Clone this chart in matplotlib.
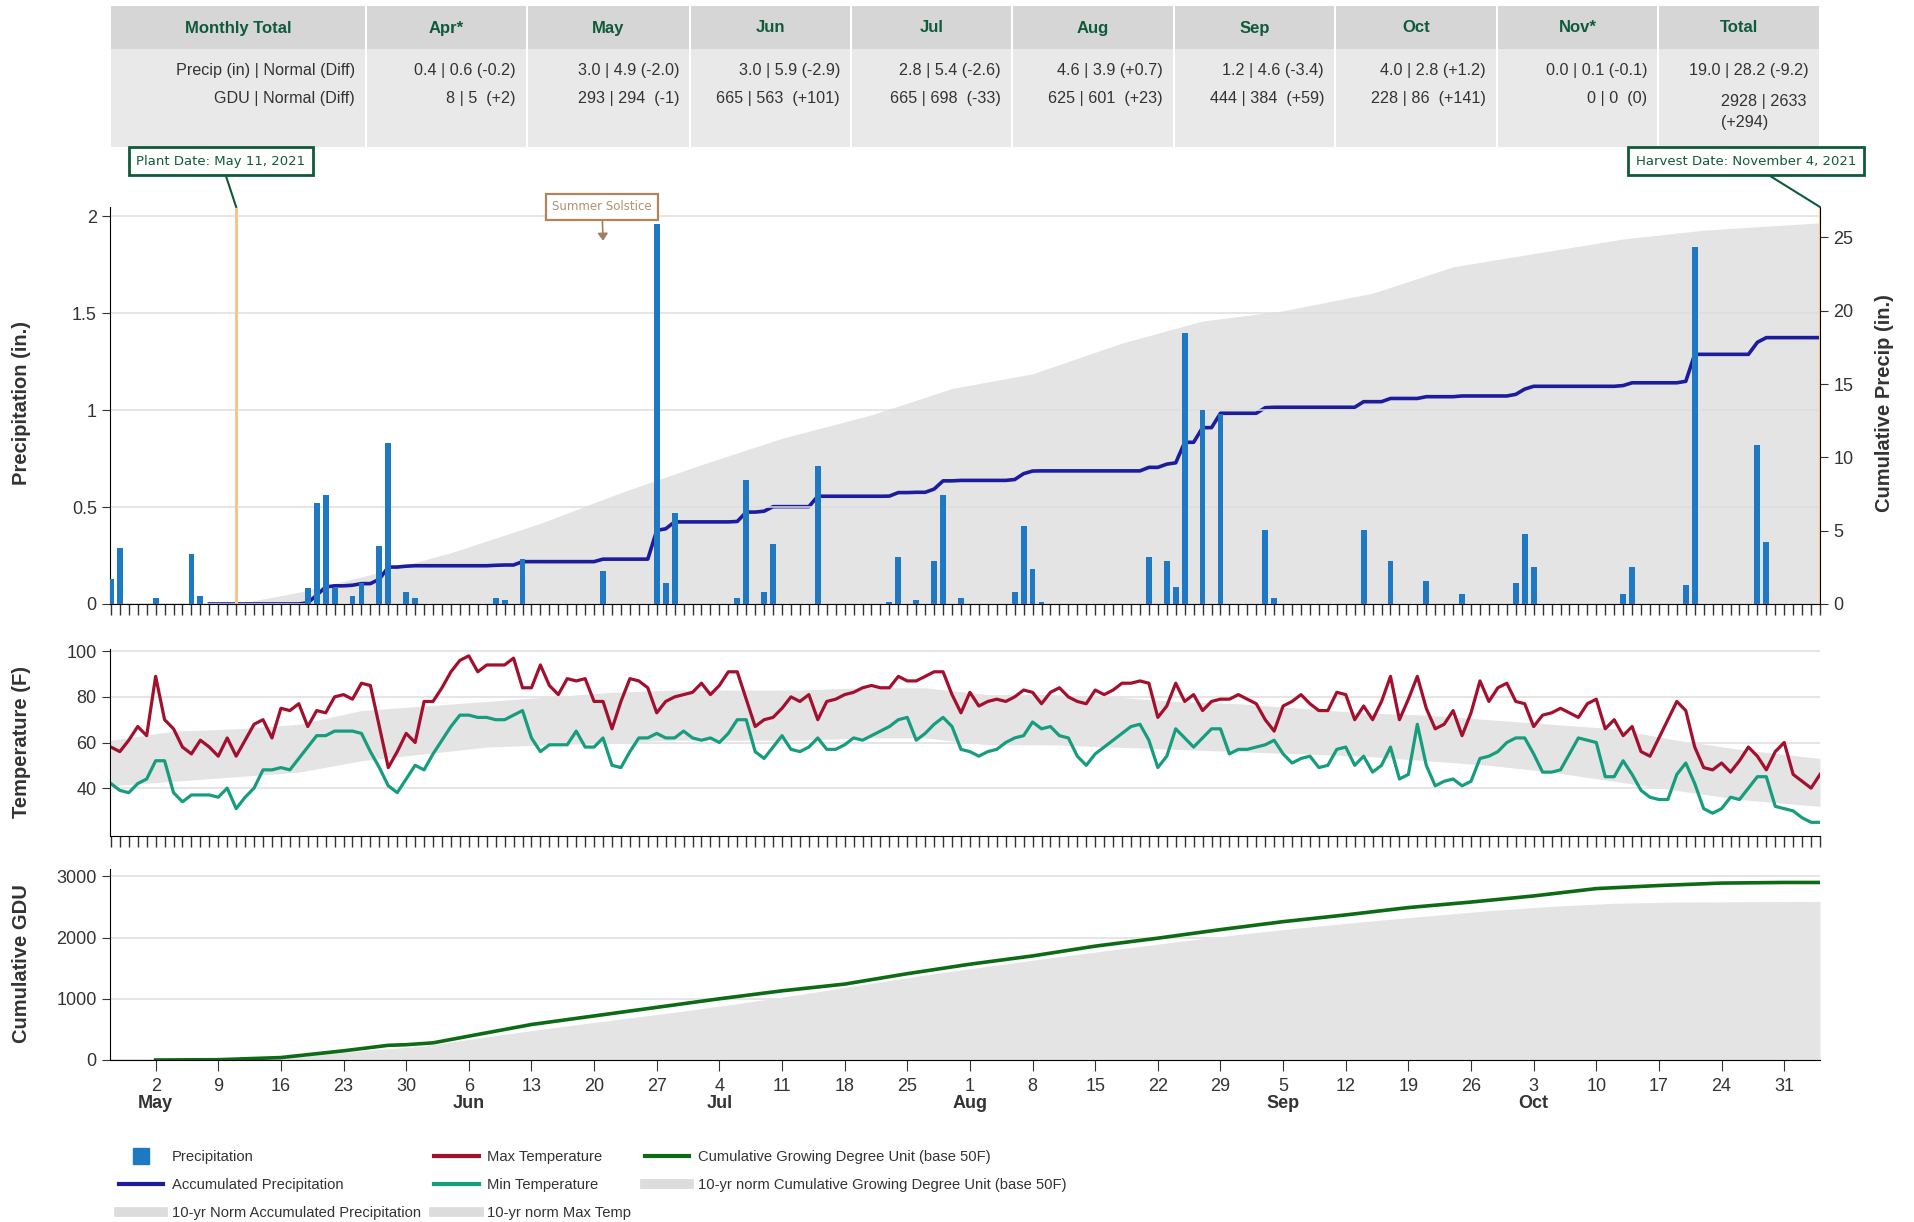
import matplotlib.pyplot as plt
import matplotlib.dates as mdates
import matplotlib.transforms as mtransforms
from matplotlib.lines import Line2D
from matplotlib.patches import Rectangle
import numpy as np
import pandas as pd

plt.rcParams['font.family'] = ['Liberation Sans', 'DejaVu Sans']
narrow = ['Liberation Sans Narrow', 'Liberation Sans', 'DejaVu Sans']

# ---------------- data ----------------
start, end = '2021-04-27', '2021-11-04'
plant_date = '2021-05-11'
harvest_date = '2021-11-04'
solstice = '2021-06-21'
accum_start = '2021-05-08'

table_cols = ['Monthly Total', 'Apr*', 'May', 'Jun', 'Jul', 'Aug', 'Sep', 'Oct', 'Nov*', 'Total']
precip_row = ['Precip (in) | Normal (Diff)', '0.4 | 0.6 (-0.2)', '3.0 | 4.9 (-2.0)', '3.0 | 5.9 (-2.9)',
              '2.8 | 5.4 (-2.6)', '4.6 | 3.9 (+0.7)', '1.2 | 4.6 (-3.4)', '4.0 | 2.8 (+1.2)',
              '0.0 | 0.1 (-0.1)', '19.0 | 28.2 (-9.2)']
gdu_row = ['GDU | Normal (Diff)', '8 | 5  (+2)', '293 | 294  (-1)', '665 | 563  (+101)',
           '665 | 698  (-33)', '625 | 601  (+23)', '444 | 384  (+59)', '228 | 86  (+141)',
           '0 | 0  (0)', '2928 | 2633\n(+294)']

precip_dates = ['2021-04-27', '2021-04-28', '2021-05-02', '2021-05-06', '2021-05-07', '2021-05-19',
                '2021-05-20', '2021-05-21', '2021-05-22', '2021-05-24', '2021-05-25', '2021-05-27',
                '2021-05-28', '2021-05-30', '2021-05-31', '2021-06-09', '2021-06-10', '2021-06-12',
                '2021-06-21', '2021-06-27', '2021-06-28', '2021-06-29', '2021-07-06', '2021-07-07',
                '2021-07-09', '2021-07-10', '2021-07-15', '2021-07-23', '2021-07-24', '2021-07-26',
                '2021-07-28', '2021-07-29', '2021-07-31', '2021-08-06', '2021-08-07', '2021-08-08',
                '2021-08-09', '2021-08-21', '2021-08-23', '2021-08-24', '2021-08-25', '2021-08-27',
                '2021-08-29', '2021-09-03', '2021-09-04', '2021-09-14', '2021-09-17', '2021-09-21',
                '2021-09-25', '2021-10-01', '2021-10-02', '2021-10-03', '2021-10-13', '2021-10-14',
                '2021-10-20', '2021-10-21', '2021-10-28', '2021-10-29']
precip_vals = [0.13, 0.29, 0.03, 0.26, 0.04, 0.08,
               0.52, 0.56, 0.08, 0.04, 0.11, 0.30,
               0.83, 0.06, 0.03, 0.03, 0.02, 0.23,
               0.17, 1.96, 0.11, 0.47, 0.03, 0.64,
               0.06, 0.31, 0.71, 0.01, 0.24, 0.02,
               0.22, 0.56, 0.03, 0.06, 0.40, 0.18,
               0.01, 0.24, 0.22, 0.09, 1.40, 1.00,
               0.98, 0.38, 0.03, 0.38, 0.22, 0.12,
               0.05, 0.11, 0.36, 0.19, 0.05, 0.19,
               0.10, 1.84, 0.82, 0.32]

norm_precip_dates = ['2021-05-11', '2021-05-18', '2021-05-26', '2021-06-04', '2021-06-14', '2021-06-23',
                     '2021-07-02', '2021-07-11', '2021-07-21', '2021-07-30', '2021-08-08', '2021-08-18',
                     '2021-08-27', '2021-09-05', '2021-09-15', '2021-09-24', '2021-10-04', '2021-10-13',
                     '2021-10-22', '2021-11-04']
norm_precip_vals = [0.0, 0.8, 2.0, 3.5, 5.5, 7.6, 9.5, 11.3, 12.9, 14.7, 15.7, 17.8,
                    19.3, 20.0, 21.2, 23.0, 24.0, 24.9, 25.5, 26.0]

# daily max / min temperature, Apr 27 .. Nov 4
tmax = [58, 56, 61, 67, 63, 89, 70, 66, 58, 55,
        61, 58, 54, 62, 54, 61, 68, 70, 62, 75,
        74, 77, 67, 74, 73, 80, 81, 79, 86, 85,
        67, 49, 56, 64, 60, 78, 78, 84, 91, 96,
        98, 91, 94, 94, 94, 97, 84, 84, 94, 85,
        81, 88, 87, 88, 78, 78, 66, 78, 88, 87,
        84, 73, 78, 80, 81, 82, 86, 81, 85, 91,
        91, 79, 67, 70, 71, 75, 80, 78, 81, 70,
        78, 79, 81, 82, 84, 85, 84, 84, 89, 87,
        87, 89, 91, 91, 81, 73, 82, 76, 78, 79,
        78, 80, 83, 82, 77, 82, 84, 80, 78, 77,
        83, 81, 83, 86, 86, 87, 86, 71, 76, 86,
        78, 81, 74, 78, 79, 79, 81, 79, 77, 70,
        65, 76, 78, 81, 77, 74, 74, 82, 81, 70,
        76, 70, 78, 89, 70, 79, 89, 75, 66, 68,
        74, 63, 73, 87, 78, 84, 86, 78, 77, 67,
        72, 73, 75, 73, 71, 77, 79, 66, 70, 63,
        67, 56, 54, 62, 70, 78, 74, 58, 49, 48,
        51, 47, 52, 58, 54, 48, 56, 60, 46, 43,
        40, 46]
tmin = [42, 39, 38, 42, 44, 52, 52, 38, 34, 37,
        37, 37, 36, 40, 31, 36, 40, 48, 48, 49,
        48, 53, 58, 63, 63, 65, 65, 65, 64, 56,
        49, 41, 38, 44, 50, 48, 55, 61, 67, 72,
        72, 71, 71, 70, 70, 72, 74, 62, 56, 59,
        59, 59, 65, 58, 58, 62, 50, 49, 56, 62,
        62, 64, 62, 62, 65, 62, 61, 62, 60, 64,
        70, 70, 56, 53, 58, 63, 57, 56, 58, 62,
        57, 57, 59, 62, 61, 63, 65, 67, 70, 71,
        61, 64, 68, 71, 67, 57, 56, 54, 56, 57,
        60, 62, 63, 69, 66, 67, 63, 62, 54, 50,
        55, 58, 61, 64, 67, 68, 61, 49, 54, 66,
        62, 58, 62, 66, 66, 55, 57, 57, 58, 59,
        61, 55, 51, 53, 54, 49, 50, 57, 58, 50,
        54, 47, 50, 58, 44, 46, 68, 50, 41, 43,
        44, 41, 43, 53, 54, 56, 60, 62, 62, 55,
        47, 47, 48, 55, 62, 61, 60, 45, 45, 52,
        46, 39, 36, 35, 35, 46, 51, 42, 31, 29,
        31, 36, 35, 40, 45, 45, 32, 31, 30, 27,
        25, 25]

norm_temp_dates = ['2021-04-27', '2021-05-04', '2021-05-11', '2021-05-18', '2021-05-25', '2021-06-01',
                   '2021-06-08', '2021-06-15', '2021-06-22', '2021-06-29', '2021-07-06', '2021-07-13',
                   '2021-07-20', '2021-07-27', '2021-08-03', '2021-08-10', '2021-08-17', '2021-08-24',
                   '2021-08-31', '2021-09-07', '2021-09-14', '2021-09-21', '2021-09-28', '2021-10-05',
                   '2021-10-12', '2021-10-19', '2021-10-26', '2021-11-04']
norm_tmax = [61, 65, 66, 68, 74, 76, 78, 80, 82, 83, 83, 83, 84, 84,
             81, 81, 80, 78, 77, 75, 73, 72, 70, 68, 66, 61, 57, 53]
norm_tmin = [41, 43, 45, 47, 52, 55, 58, 59, 60, 61, 61, 61, 62, 62,
             59, 59, 58, 57, 56, 55, 54, 52, 50, 47, 43, 39, 35, 32]

gdu_dates = ['2021-05-02', '2021-05-09', '2021-05-16', '2021-05-23', '2021-05-28', '2021-05-30',
             '2021-06-02', '2021-06-06', '2021-06-13', '2021-06-20', '2021-06-27', '2021-07-04',
             '2021-07-11', '2021-07-18', '2021-07-25', '2021-08-01', '2021-08-08', '2021-08-15',
             '2021-08-22', '2021-08-29', '2021-09-05', '2021-09-12', '2021-09-19', '2021-09-26',
             '2021-10-03', '2021-10-10', '2021-10-17', '2021-10-24', '2021-10-31', '2021-11-04']
gdu_vals = [0, 5, 40, 150, 240, 250, 280, 390, 580, 720, 860, 1000,
            1130, 1240, 1410, 1565, 1700, 1860, 1990, 2130, 2260, 2370, 2490, 2580,
            2680, 2800, 2850, 2890, 2900, 2900]

norm_gdu_dates = ['2021-05-11', '2021-05-18', '2021-05-25', '2021-06-01', '2021-06-08', '2021-06-15',
                  '2021-06-22', '2021-06-29', '2021-07-06', '2021-07-13', '2021-07-20', '2021-07-27',
                  '2021-08-03', '2021-08-10', '2021-08-17', '2021-08-24', '2021-08-31', '2021-09-07',
                  '2021-09-14', '2021-09-21', '2021-09-28', '2021-10-05', '2021-10-12', '2021-10-19',
                  '2021-10-26', '2021-11-04']
norm_gdu_vals = [0, 60, 150, 230, 380, 520, 650, 780, 920, 1070, 1230, 1390,
                 1530, 1670, 1800, 1930, 2050, 2160, 2260, 2350, 2440, 2510, 2560, 2580,
                 2585, 2590]

# ---------------- figure ----------------
W, H = 1914, 1222
fig = plt.figure(figsize=(W / 100, H / 100), dpi=100)


def box(x0, y0, x1, y1):
    return [x0 / W, 1 - y1 / H, (x1 - x0) / W, (y1 - y0) / H]


ax_tab = fig.add_axes(box(110, 6, 1820, 147))
ax_p = fig.add_axes(box(110, 207, 1820, 604))
ax_t = fig.add_axes(box(110, 649, 1820, 836))
ax_g = fig.add_axes(box(110, 869, 1820, 1060))

days = pd.date_range(start, end, freq='D')
x0 = mdates.date2num(pd.Timestamp(start)) - 0.1
x1 = mdates.date2num(pd.Timestamp(end))

DARK = '#333333'
GRID = '#dedede'
NORM = '#e4e4e4'
GREEN_BOX = '#0f5a3a'

# ---------- table ----------
ax_tab.set_xlim(110, 1820)
ax_tab.set_ylim(147, 6)
ax_tab.axis('off')
col_edges = [110, 366, 527, 690, 851, 1012, 1174, 1335, 1497, 1658, 1820]
tsize = 11.6
for i, name in enumerate(table_cols):
    a, b = col_edges[i], col_edges[i + 1]
    ax_tab.add_patch(Rectangle((a + 1, 6), b - a - 2, 43, color='#d6d6d6', lw=0))
    ax_tab.add_patch(Rectangle((a + 1, 49), b - a - 2, 98, color='#e9e9e9', lw=0))
    ax_tab.text((a + b) / 2, 28, name, ha='center', va='center', fontsize=12,
                fontweight='bold', color=GREEN_BOX, family=narrow)
    ax_tab.text(b - 11, 70, precip_row[i], ha='right', va='center', fontsize=tsize,
                color=DARK, family=narrow)
    if i < 9:
        ax_tab.text(b - 11, 99, gdu_row[i], ha='right', va='center', fontsize=tsize,
                    color=DARK, family=narrow)
    else:
        ax_tab.text(a + 63, 112, gdu_row[i], ha='left', va='center', fontsize=tsize,
                    color=DARK, family=narrow, linespacing=1.5)

# ---------- precipitation panel ----------
ax_r = ax_p.twinx()
ax_r.set_zorder(ax_p.get_zorder() - 1)
ax_p.patch.set_visible(False)

precip = pd.Series(precip_vals, index=pd.to_datetime(precip_dates)).reindex(days, fill_value=0.0)
accum = precip[accum_start:].cumsum()

ax_r.fill_between(pd.to_datetime(norm_precip_dates), norm_precip_vals, 0, color=NORM, lw=0)
ax_r.plot(accum.index, accum.values, color='#1c1c9e', lw=2.6, zorder=3)
ax_p.bar(pd.to_datetime(precip_dates), precip_vals, width=0.65, color='#1f79c2', zorder=3)

ax_p.axvline(pd.Timestamp(plant_date), color='#f7c58a', lw=2.2, zorder=2)
ax_p.axvline(pd.Timestamp(harvest_date), color='#f7c58a', lw=2.2, zorder=2)

ax_p.set_ylim(0, 2.049)
ax_r.set_ylim(0, 27.08)
ax_p.set_yticks([0, 0.5, 1, 1.5, 2])
ax_p.set_yticklabels(['0', '0.5', '1', '1.5', '2'])
ax_r.set_yticks([0, 5, 10, 15, 20, 25])
ax_p.yaxis.grid(True, color=GRID, lw=1.1)
ax_p.set_axisbelow(True)

for ax in (ax_p, ax_t, ax_g):
    ax.set_xlim(x0, x1)
    ax.spines['top'].set_visible(False)
    ax.spines['right'].set_visible(False)
    ax.tick_params(axis='y', labelsize=13, colors=DARK, length=6)
ax_r.spines['top'].set_visible(False)
ax_r.spines['left'].set_visible(False)
ax_r.spines['bottom'].set_visible(False)
ax_r.tick_params(axis='y', labelsize=13, colors=DARK, length=6)
ax_r.set_xlim(x0, x1)

for ax in (ax_p, ax_t):
    ax.xaxis.set_major_locator(mdates.DayLocator())
    ax.tick_params(axis='x', length=8, width=1, labelbottom=False, color=DARK)

# ---------- temperature panel ----------
ax_t.fill_between(pd.to_datetime(norm_temp_dates), norm_tmin, norm_tmax, color=NORM, lw=0)
ax_t.plot(days, tmax, color='#a3102d', lw=2.3)
ax_t.plot(days, tmin, color='#169c7e', lw=2.3)
ax_t.set_ylim(19, 101)
ax_t.set_yticks([40, 60, 80, 100])
ax_t.yaxis.grid(True, color=GRID, lw=1.1)
ax_t.set_axisbelow(True)

# ---------- GDU panel ----------
ax_g.fill_between(pd.to_datetime(norm_gdu_dates), norm_gdu_vals, 0, color=NORM, lw=0)
ax_g.plot(pd.to_datetime(gdu_dates), gdu_vals, color='#0c6b14', lw=2.6)
ax_g.set_ylim(0, 3120)
ax_g.set_yticks([0, 1000, 2000, 3000])
ax_g.yaxis.grid(True, color=GRID, lw=1.1)
ax_g.set_axisbelow(True)

week_ticks = pd.date_range('2021-05-02', '2021-10-31', freq='7D')
ax_g.set_xticks(week_ticks)
ax_g.set_xticklabels([str(d.day) for d in week_ticks])
ax_g.tick_params(axis='x', length=8, labelsize=13, colors=DARK, pad=5)
trans = mtransforms.blended_transform_factory(ax_g.transData, ax_g.transAxes)
seen = set()
for d in week_ticks:
    if d.month not in seen:
        seen.add(d.month)
        ax_g.text(d, -0.23, d.strftime('%b'), transform=trans, ha='center', va='center',
                  fontsize=13, fontweight='bold', color=DARK)

# ---------- axis titles ----------
lab = dict(rotation=90, ha='center', va='center', fontsize=14.5, fontweight='bold', color=DARK)
fig.text(22 / W, 1 - 403 / H, 'Precipitation (in.)', **lab)
fig.text(22 / W, 1 - 742 / H, 'Temperature (F)', **lab)
fig.text(22 / W, 1 - 964 / H, 'Cumulative GDU', **lab)
fig.text(1884 / W, 1 - 403 / H, 'Cumulative Precip (in.)', **lab)

# ---------- annotations ----------
ax_p.annotate('Plant Date: May 11, 2021', xy=(pd.Timestamp(plant_date), 1.0),
              xycoords=('data', 'axes fraction'), xytext=(221 / W, 1 - 161 / H),
              textcoords='figure fraction', ha='center', va='center', fontsize=9.5,
              family=['DejaVu Sans'], color=GREEN_BOX, annotation_clip=False,
              bbox=dict(boxstyle='square,pad=0.6', fc='white', ec=GREEN_BOX, lw=2),
              arrowprops=dict(arrowstyle='-', color=GREEN_BOX, lw=1.5, shrinkA=0, shrinkB=0))
ax_p.annotate('Harvest Date: November 4, 2021', xy=(pd.Timestamp(harvest_date), 1.0),
              xycoords=('data', 'axes fraction'), xytext=(1746 / W, 1 - 161 / H),
              textcoords='figure fraction', ha='center', va='center', fontsize=9.5,
              family=['DejaVu Sans'], color=GREEN_BOX, annotation_clip=False,
              bbox=dict(boxstyle='square,pad=0.6', fc='white', ec=GREEN_BOX, lw=2),
              arrowprops=dict(arrowstyle='-', color=GREEN_BOX, lw=1.5, shrinkA=0, shrinkB=0))
ax_p.annotate('Summer Solstice', xy=(pd.Timestamp(solstice), 0.915),
              xycoords=('data', 'axes fraction'), xytext=(602 / W, 1 - 207 / H),
              textcoords='figure fraction', ha='center', va='center', fontsize=8.5,
              family=['DejaVu Sans'], color='#b0906f', annotation_clip=False, zorder=5,
              bbox=dict(boxstyle='square,pad=0.55', fc='white', ec='#b5835a', lw=1.6),
              arrowprops=dict(arrowstyle='-|>,head_width=0.35,head_length=0.5',
                              color='#a07e62', lw=1.2, shrinkA=0, shrinkB=0))

# ---------- legend ----------
handles = [
    Line2D([], [], ls='none', marker='s', markersize=12, color='#1f79c2'),
    Line2D([], [], color='#1c1c9e', lw=3),
    Line2D([], [], color='#dcdcdc', lw=7),
    Line2D([], [], color='#a3102d', lw=3),
    Line2D([], [], color='#169c7e', lw=3),
    Line2D([], [], color='#dcdcdc', lw=7),
    Line2D([], [], color='#0c6b14', lw=3),
    Line2D([], [], color='#dcdcdc', lw=7),
]
labels = ['Precipitation', 'Accumulated Precipitation', '10-yr Norm Accumulated Precipitation',
          'Max Temperature', 'Min Temperature', '10-yr norm Max Temp',
          'Cumulative Growing Degree Unit (base 50F)',
          '10-yr norm Cumulative Growing Degree Unit (base 50F)']
fig.legend(handles, labels, ncol=3, loc='upper left', bbox_to_anchor=(119 / W, 1 - 1150 / H),
           frameon=False, prop={'family': narrow, 'size': 10.6}, labelcolor=DARK,
           handlelength=3.0, handletextpad=0.6, columnspacing=0.9, labelspacing=0.95,
           borderpad=0, borderaxespad=0)

fig.savefig('out.png', dpi=100)
